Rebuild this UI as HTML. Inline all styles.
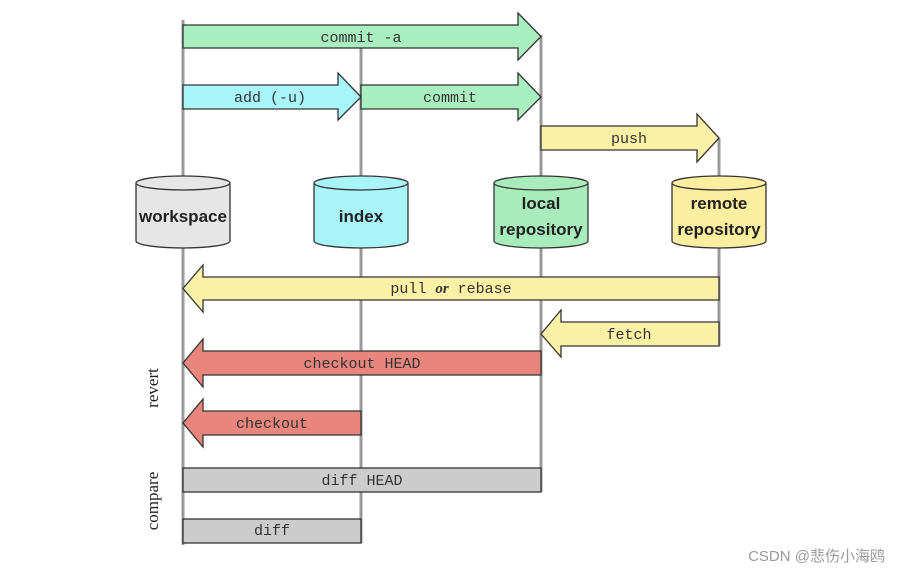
<!DOCTYPE html>
<html><head><meta charset="utf-8"><style>
body{margin:0;background:#fff;width:902px;height:576px;overflow:hidden}
svg text{font-family:"Liberation Mono",monospace;font-size:15px;fill:#333}
.s{font-family:"Liberation Sans",sans-serif;font-weight:bold;font-size:17px;fill:#222}
.r{font-family:"Liberation Serif",serif;font-size:17px;fill:#222}
</style></head><body>
<svg width="902" height="576" viewBox="0 0 902 576" xmlns="http://www.w3.org/2000/svg">
<g stroke="#999" stroke-width="3">
<line x1="183" y1="20" x2="183" y2="545"/>
<line x1="361" y1="48" x2="361" y2="543"/>
<line x1="541" y1="35" x2="541" y2="492"/>
<line x1="719" y1="138" x2="719" y2="346"/>
</g>
<g stroke="#333" stroke-width="1.3">
<polygon points="183,25 518,25 518,13 541,36.5 518,60 518,48 183,48" fill="#a8eebe"/>
<polygon points="183,85 338,85 338,73 361,97 338,120 338,109 183,109" fill="#a8f6fa"/>
<polygon points="361,85 518,85 518,73 541,97 518,120 518,109 361,109" fill="#a8eebe"/>
<polygon points="541,126 697,126 697,114 719,138 697,162 697,150 541,150" fill="#faf0a6"/>
<polygon points="719,277 203,277 203,265 183,288.5 203,312 203,300 719,300" fill="#faf0a6"/>
<polygon points="719,322 561,322 561,310 541,334 561,357 561,346 719,346" fill="#faf0a6"/>
<polygon points="541,351 203,351 203,339 183,363 203,387 203,375 541,375" fill="#e8867e"/>
<polygon points="361,411 203,411 203,399 183,423 203,447 203,435 361,435" fill="#e8867e"/>
<rect x="183" y="468" width="358" height="24" fill="#cccccc"/>
<rect x="183" y="519" width="178" height="24" fill="#cccccc"/>
</g>
<g stroke="#333" stroke-width="1.3">
<path d="M136,183 V241 A47,7 0 0 0 230,241 V183" fill="#e6e6e6"/><ellipse cx="183" cy="183" rx="47" ry="7" fill="#e6e6e6"/>
<path d="M314,183 V241 A47,7 0 0 0 408,241 V183" fill="#a8f4f8"/><ellipse cx="361" cy="183" rx="47" ry="7" fill="#a8f4f8"/>
<path d="M494,183 V241 A47,7 0 0 0 588,241 V183" fill="#a8ecbc"/><ellipse cx="541" cy="183" rx="47" ry="7" fill="#a8ecbc"/>
<path d="M672,183 V241 A47,7 0 0 0 766,241 V183" fill="#fbeea0"/><ellipse cx="719" cy="183" rx="47" ry="7" fill="#fbeea0"/>
</g>
<text class="s" x="183" y="222" text-anchor="middle">workspace</text>
<text class="s" x="361" y="222" text-anchor="middle">index</text>
<text class="s" x="541" y="209" text-anchor="middle">local</text>
<text class="s" x="541" y="235" text-anchor="middle">repository</text>
<text class="s" x="719" y="209" text-anchor="middle">remote</text>
<text class="s" x="719" y="235" text-anchor="middle">repository</text>
<g text-anchor="middle">
<text x="361" y="42">commit -a</text>
<text x="270" y="102">add (-u)</text>
<text x="450" y="102">commit</text>
<text x="629" y="143">push</text>
<text x="451" y="293">pull <tspan font-family="Liberation Serif" font-style="italic" font-weight="bold">or</tspan> rebase</text>
<text x="629" y="339">fetch</text>
<text x="362" y="368">checkout HEAD</text>
<text x="272" y="428">checkout</text>
<text x="362" y="485">diff HEAD</text>
<text x="272" y="535">diff</text>
</g>
<text class="r" transform="translate(158,388) rotate(-90)" text-anchor="middle">revert</text>
<text class="r" transform="translate(158,501) rotate(-90)" text-anchor="middle">compare</text>
<text x="885" y="561" text-anchor="end" style="font-family:'Liberation Sans','Noto Sans CJK SC',sans-serif;font-size:15px;fill:#999">CSDN @悲伤小海鸥</text>
</svg>
</body></html>
